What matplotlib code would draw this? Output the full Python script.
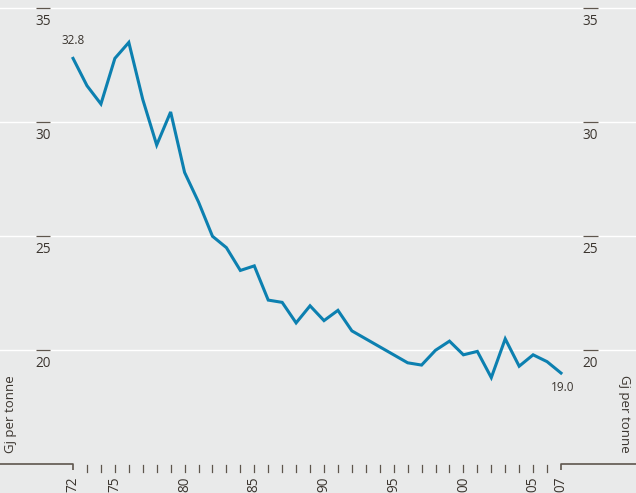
import numpy as np
import matplotlib
matplotlib.use("Agg")
import matplotlib.pyplot as plt
import matplotlib.transforms as mtransforms

plt.rcParams["font.family"] = ["Open Sans", "DejaVu Sans"]

years = np.arange(1972, 2008)
gj_per_tonne = [32.8, 31.6, 30.8, 32.8, 33.5, 31.0, 29.0, 30.45, 27.8, 26.5,
                25.0, 24.5, 23.5, 23.7, 22.2, 22.1, 21.2, 21.95, 21.3, 21.75,
                20.85, 20.5, 20.15, 19.8, 19.45, 19.35, 20.0, 20.4, 19.8, 19.95,
                18.8, 20.5, 19.3, 19.8, 19.5, 19.0]
y_ticks = [20, 25, 30, 35]
x_labels = {1972: "72", 1975: "75", 1980: "80", 1985: "85", 1990: "90",
            1995: "95", 2000: "00", 2005: "05", 2007: "07"}

bg = "#e9eaea"
line_col = "#0c80b0"
axis_col = "#5e564d"
text_col = "#3a342e"

fig = plt.figure(figsize=(6.36, 4.93), dpi=100, facecolor=bg)
ax = fig.add_axes([0, 0, 1, 1])
ax.set_facecolor(bg)
ax.set_xlim(1966.76, 2012.38)
ax.set_ylim(13.74, 35.36)
ax.axis("off")

# white gridlines
for v in y_ticks:
    ax.axhline(v, color="white", lw=1.0, zorder=1)

# y tick labels with short marks on both sides
blend = mtransforms.blended_transform_factory(ax.transAxes, ax.transData)
for v in y_ticks:
    for xc in (0.0675, 0.928):
        ax.plot([xc - 0.0115, xc + 0.0115], [v, v], color=axis_col, lw=0.9,
                transform=blend, zorder=2, solid_capstyle="butt")
        ax.text(xc, v - 0.25, str(v), transform=blend, ha="center", va="top",
                fontsize=9.8, color=text_col)

# bottom axis
x0, x1 = years[0], years[-1]
ax.plot([ax.get_xlim()[0], x0, x0], [15, 15, 14.75], color=axis_col, lw=1.2,
        clip_on=False, solid_capstyle="butt")
ax.plot([ax.get_xlim()[1], x1, x1], [15, 15, 14.75], color=axis_col, lw=1.2,
        clip_on=False, solid_capstyle="butt")
for yr in years[1:-1]:
    ax.plot([yr, yr], [14.95, 14.64], color=axis_col, lw=0.9)
for yr, lab in x_labels.items():
    ax.text(yr, 14.45, lab, rotation=90, ha="center", va="top",
            fontsize=9.8, color=text_col)

# y axis titles
ax.text(0.016, 17.2, "Gj per tonne", rotation=90, ha="center", va="center",
        transform=blend, fontsize=9.5, color=text_col)
ax.text(0.982, 17.2, "Gj per tonne", rotation=-90, ha="center", va="center",
        transform=blend, fontsize=9.5, color=text_col)

# data line
ax.plot(years, gj_per_tonne, color=line_col, lw=2.2, zorder=3,
        solid_joinstyle="miter")
ax.annotate(f"{gj_per_tonne[0]:.1f}", (years[0], gj_per_tonne[0]),
            xytext=(0, 8), textcoords="offset points", ha="center", va="bottom",
            fontsize=8.5, color=text_col)
ax.annotate(f"{gj_per_tonne[-1]:.1f}", (years[-1], gj_per_tonne[-1]),
            xytext=(1, -6), textcoords="offset points", ha="center", va="top",
            fontsize=8.5, color=text_col)

fig.savefig("out.png", dpi=100, facecolor=bg)
